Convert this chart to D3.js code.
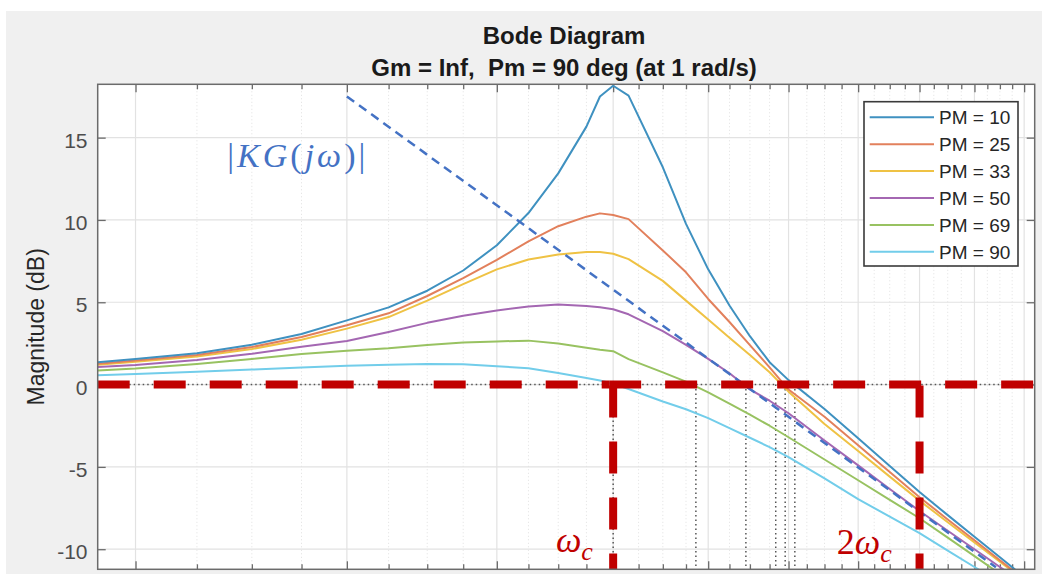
<!DOCTYPE html>
<html>
<head>
<meta charset="utf-8">
<script src="https://cdn.jsdelivr.net/npm/d3@7"></script>
<style>
body { margin: 0; background: #fff; }
svg { display: block; font-family: "Liberation Sans", Arial, sans-serif; }
</style>
</head>
<body>
<svg id="canvas" width="1058" height="574"></svg>
<script>
// frequency grid (rad/s) and magnitude of each closed loop (dB)
let freq = [0.372, 0.4, 0.45, 0.5, 0.55, 0.6, 0.65, 0.7, 0.75, 0.8, 0.85, 0.9, 0.95, 0.975, 1.0, 1.03,
            1.1, 1.15, 1.2, 1.25, 1.3, 1.35, 1.4, 1.5, 1.6, 1.7, 1.8, 1.9, 2.0, 2.1, 2.2, 2.245]

let pm10 = [1.35, 1.56, 1.90, 2.42, 3.07, 3.9, 4.69, 5.70, 6.93, 8.46, 10.42, 12.83, 15.67, 17.5, 18.15, 17.55,
            13.2, 9.76, 7.0, 4.8, 2.94, 1.36, 0.27, -1.48, -3.26, -4.95, -6.53, -7.93, -9.24, -10.49, -11.68, -12.25]
let pm25 = [1.27, 1.47, 1.8, 2.28, 2.89, 3.6, 4.33, 5.38, 6.47, 7.58, 8.7, 9.62, 10.2, 10.4, 10.3, 10.05,
            8.15, 6.82, 5.2, 3.8, 2.4, 1.05, -0.3, -1.95, -3.68, -5.31, -6.84, -8.19, -9.46, -10.67, -11.82, -12.38]
let pm33 = [1.21, 1.39, 1.7, 2.16, 2.72, 3.4, 4.1, 5.1, 6.1, 7.0, 7.6, 7.9, 8.05, 8.05, 7.95, 7.62,
            6.3, 5.1, 3.95, 2.85, 1.8, 0.75, -0.43, -2.39, -4.04, -5.59, -7.05, -8.36, -9.59, -10.76, -11.87, -12.4]
let pm50 = [1.07, 1.19, 1.5, 1.87, 2.3, 2.65, 3.2, 3.75, 4.18, 4.5, 4.74, 4.87, 4.78, 4.7, 4.58, 4.27,
            3.25, 2.41, 1.56, 0.69, -0.29, -0.98, -1.74, -3.4, -4.91, -6.34, -7.68, -8.88, -10.0, -11.08, -12.1, -12.6]
let pm69 = [0.85, 0.97, 1.25, 1.56, 1.86, 2.05, 2.2, 2.4, 2.56, 2.62, 2.67, 2.5, 2.24, 2.12, 2.03, 1.55,
            0.74, 0.18, -0.47, -1.16, -1.83, -2.5, -3.2, -4.55, -5.81, -7.0, -8.12, -9.3, -10.42, -11.5, -12.5, -13.0]
let pm90 = [0.56, 0.65, 0.78, 0.91, 1.04, 1.14, 1.2, 1.25, 1.24, 1.12, 0.99, 0.70, 0.40, 0.25, 0.05, -0.27,
            -1.03, -1.5, -2.04, -2.64, -3.23, -3.8, -4.4, -5.7, -6.96, -8.02, -9.02, -10.08, -11.08, -12.0, -12.9, -13.3]

let pmLabels = ["PM = 10", "PM = 25", "PM = 33", "PM = 50", "PM = 69", "PM = 90"]
let pmColors = ["#3f91c0", "#e2805c", "#efc244", "#a467b2", "#98c261", "#72cdea"]

// 0 dB crossover of each curve (dotted markers)
let crossFreq = [1.0, 1.172, 1.29, 1.366, 1.391, 1.417]

// open loop |KG(jw)| asymptote drawn over the plot
let kgFreq = [0.6, 2.084]
let kgDb = [17.5, -11.1]

let omegaC = 1.0
let twoOmegaC = 1.8

let yTicks = [-10, -5, 0, 5, 10, 15]
let xMajor = [0.4, 0.6, 0.8, 1.0, 1.2, 1.4, 1.6, 1.8, 2.0, 2.2]
let xMinor = [0.45, 0.5, 0.55, 0.65, 0.7, 0.75, 0.85, 0.9, 0.95, 1.05, 1.1, 1.15, 1.25, 1.3, 1.35,
              1.45, 1.5, 1.55, 1.65, 1.7, 1.75, 1.85, 1.9, 1.95, 2.05, 2.1, 2.15]

let svg = d3.select("#canvas")
let pLeft = 97.7, pRight = 1034.7, pTop = 84.3, pBottom = 569.3

let x = d3.scaleLog().domain([0.372, 2.245]).range([pLeft, pRight])
let y = d3.scaleLinear().domain([-11.22, 18.24]).range([pBottom, pTop])

// figure background
svg.append("rect").attr("x", 6).attr("y", 11).attr("width", 1036).attr("height", 563).attr("fill", "#f0f0f0")
svg.append("rect").attr("x", pLeft).attr("y", pTop).attr("width", pRight - pLeft).attr("height", pBottom - pTop).attr("fill", "#fff")

svg.append("clipPath").attr("id", "plotclip")
    .append("rect").attr("x", pLeft).attr("y", pTop).attr("width", pRight - pLeft).attr("height", pBottom - pTop)

// grid
let grid = svg.append("g")
grid.selectAll(".minor").data(xMinor).enter().append("line")
    .attr("x1", d => x(d)).attr("x2", d => x(d)).attr("y1", pTop).attr("y2", pBottom)
    .attr("stroke", "#e0e0e0").attr("stroke-width", 1).attr("stroke-dasharray", "1,2.5")
grid.selectAll(".major").data(xMajor).enter().append("line")
    .attr("x1", d => x(d)).attr("x2", d => x(d)).attr("y1", pTop).attr("y2", pBottom)
    .attr("stroke", "#e2e2e2").attr("stroke-width", 1.2)
grid.selectAll(".hgrid").data(yTicks).enter().append("line")
    .attr("x1", pLeft).attr("x2", pRight).attr("y1", d => y(d)).attr("y2", d => y(d))
    .attr("stroke", "#e2e2e2").attr("stroke-width", 1.2)

// ticks on all four sides, pointing inward
let tickGroups = [
    [d3.axisBottom(x), pBottom, xMajor, -8],
    [d3.axisBottom(x), pBottom, xMinor, -5],
    [d3.axisTop(x), pTop, xMajor, -8],
    [d3.axisTop(x), pTop, xMinor, -5]
]
tickGroups.forEach(t => {
    let g = svg.append("g").attr("transform", "translate(0," + t[1] + ")")
        .call(t[0].tickValues(t[2]).tickSize(t[3]).tickFormat(""))
    g.select(".domain").remove()
    g.selectAll("line").attr("stroke", "#6b6b6b").attr("stroke-width", 1.3)
})

let yLeft = svg.append("g").attr("transform", "translate(" + pLeft + ",0)")
    .call(d3.axisLeft(y).tickValues(yTicks).tickSize(-8))
yLeft.select(".domain").remove()
yLeft.selectAll("line").attr("stroke", "#6b6b6b").attr("stroke-width", 1.3)
yLeft.selectAll("text")
    .attr("x", -10.2)
    .attr("dy", "0.45em")
    .attr("fill", "#4d4d4d")
    .style("font-size", "21px")
    .style("font-family", "Liberation Sans, Arial, sans-serif")
    .text(d => d < 0 ? "-" + Math.abs(d) : d)

let yRight = svg.append("g").attr("transform", "translate(" + pRight + ",0)")
    .call(d3.axisRight(y).tickValues(yTicks).tickSize(-8).tickFormat(""))
yRight.select(".domain").remove()
yRight.selectAll("line").attr("stroke", "#6b6b6b").attr("stroke-width", 1.3)

// curves
let series = [pm10, pm25, pm33, pm50, pm69, pm90].map((vals, i) => {
    return { label: pmLabels[i], color: pmColors[i], points: freq.map((w, j) => [w, vals[j]]) }
})

let line = d3.line().x(d => x(d[0])).y(d => y(d[1]))

let plot = svg.append("g").attr("clip-path", "url(#plotclip)")

// dotted markers: 0 dB line and crossover frequencies
plot.append("line")
    .attr("x1", pLeft).attr("x2", pRight).attr("y1", y(0)).attr("y2", y(0))
    .attr("stroke", "#555").attr("stroke-width", 1.5).attr("stroke-dasharray", "1.5,3")
plot.selectAll(".cross").data(crossFreq).enter().append("line")
    .attr("x1", d => x(d)).attr("x2", d => x(d)).attr("y1", y(0)).attr("y2", pBottom)
    .attr("stroke", "#555").attr("stroke-width", 1.5).attr("stroke-dasharray", "1.5,3")

plot.selectAll(".curve").data(series.slice().reverse()).enter().append("path")
    .attr("d", s => line(s.points))
    .attr("fill", "none")
    .attr("stroke", s => s.color)
    .attr("stroke-width", 2)
    .attr("stroke-linejoin", "round")

// |KG(jw)| dashed asymptote
plot.append("path")
    .attr("d", line(kgFreq.map((w, i) => [w, kgDb[i]])))
    .attr("fill", "none")
    .attr("stroke", "#4472c4")
    .attr("stroke-width", 2.5)
    .attr("stroke-dasharray", "9,6")

// red dashed guides for wc and 2wc
let red = "#c00000"
let redDash = "32,24"
let cornerX = x(omegaC) - 4
plot.append("line")
    .attr("x1", pLeft).attr("x2", cornerX).attr("y1", y(0)).attr("y2", y(0))
    .attr("stroke", red).attr("stroke-width", 8).attr("stroke-dasharray", redDash)
plot.append("line")
    .attr("x1", cornerX).attr("x2", pRight).attr("y1", y(0)).attr("y2", y(0))
    .attr("stroke", red).attr("stroke-width", 8).attr("stroke-dasharray", redDash)
plot.selectAll(".vred").data([omegaC, twoOmegaC]).enter().append("line")
    .attr("x1", d => x(d)).attr("x2", d => x(d)).attr("y1", y(0) + 1).attr("y2", pBottom)
    .attr("stroke", red).attr("stroke-width", 8).attr("stroke-dasharray", redDash)

// axes box
svg.append("rect").attr("x", pLeft).attr("y", pTop).attr("width", pRight - pLeft).attr("height", pBottom - pTop)
    .attr("fill", "none").attr("stroke", "#6b6b6b").attr("stroke-width", 1.5)

// titles
svg.append("text").attr("x", 564).attr("y", 43.5).attr("text-anchor", "middle")
    .attr("font-weight", "bold").attr("font-size", 24).attr("fill", "#1a1a1a")
    .text("Bode Diagram")
svg.append("text").attr("x", 564).attr("y", 75.5).attr("text-anchor", "middle")
    .attr("font-weight", "bold").attr("font-size", 24).attr("fill", "#1a1a1a")
    .attr("xml:space", "preserve")
    .text("Gm = Inf,  Pm = 90 deg (at 1 rad/s)")
svg.append("text")
    .attr("transform", "translate(43.5," + ((pTop + pBottom) / 2) + ") rotate(-90)")
    .attr("text-anchor", "middle").attr("font-size", 23).attr("fill", "#262626")
    .text("Magnitude (dB)")

// legend
let legend = svg.append("g")
legend.append("rect").attr("x", 864).attr("y", 101.7).attr("width", 154).attr("height", 164.3)
    .attr("fill", "#fff").attr("stroke", "#3a3a3a").attr("stroke-width", 1.6)
let rows = legend.selectAll(".row").data(series).enter().append("g")
    .attr("transform", (s, i) => "translate(0," + (117.3 + i * 26.9) + ")")
rows.append("line").attr("x1", 869.7).attr("x2", 934).attr("y1", 0).attr("y2", 0)
    .attr("stroke", s => s.color).attr("stroke-width", 2)
rows.append("text").attr("x", 939).attr("y", 7).attr("font-size", 19).attr("fill", "#262626")
    .text(s => s.label)

// annotations
let serif = "Liberation Serif, DejaVu Serif, serif"
let kg = svg.append("text").attr("x", x(0.477)).attr("y", y(13.23))
    .attr("font-family", serif).attr("font-size", 34).attr("fill", "#4472c4")
    .attr("letter-spacing", 3)
kg.append("tspan").text("|")
kg.append("tspan").attr("font-style", "italic").text("KG")
kg.append("tspan").text("(")
kg.append("tspan").attr("font-style", "italic").text("j\u03c9")
kg.append("tspan").text(")|")

let wc = svg.append("text").attr("x", x(0.896)).attr("y", y(-10.18))
    .attr("font-family", serif).attr("font-size", 36).attr("fill", red)
wc.append("tspan").attr("font-style", "italic").text("\u03c9")
wc.append("tspan").attr("font-style", "italic").attr("font-size", 26).attr("dy", 8).text("c")

let wc2 = svg.append("text").attr("x", x(1.536)).attr("y", y(-10.3))
    .attr("font-family", serif).attr("font-size", 36).attr("fill", red)
wc2.append("tspan").text("2")
wc2.append("tspan").attr("font-style", "italic").text("\u03c9")
wc2.append("tspan").attr("font-style", "italic").attr("font-size", 26).attr("dy", 8).text("c")
</script>
</body>
</html>
